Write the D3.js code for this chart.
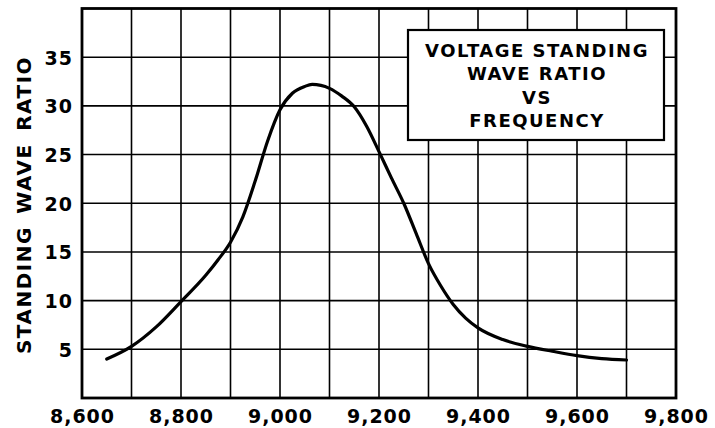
<!DOCTYPE html>
<html>
<head>
<meta charset="utf-8">
<script src="https://cdn.jsdelivr.net/npm/d3@7"></script>
<style>
  body { margin: 0; background: #fff; }
  text { font-family: "DejaVu Sans", sans-serif; font-weight: bold; fill: #000; }
</style>
</head>
<body>
<div id="chart"></div>
<script>
// values
const freqs = [8650, 8700, 8750, 8800, 8850, 8875, 8900, 8925, 8950, 8975, 9000, 9025, 9050, 9065, 9100, 9125, 9150, 9175, 9200, 9225, 9250, 9275, 9300, 9325, 9350, 9375, 9400, 9450, 9500, 9550, 9600, 9650, 9700];
const vswr = [4.0, 5.3, 7.3, 9.9, 12.6, 14.2, 16.0, 18.6, 22.3, 26.4, 29.6, 31.3, 32.0, 32.2, 31.8, 31.0, 29.9, 27.9, 25.3, 22.6, 20.0, 16.9, 13.8, 11.5, 9.6, 8.2, 7.2, 6.0, 5.3, 4.8, 4.35, 4.05, 3.9];

const xTicks = [8600, 8800, 9000, 9200, 9400, 9600, 9800];
const xGrid = [8700, 8800, 8900, 9000, 9100, 9200, 9300, 9400, 9500, 9600, 9700];
const yTicks = [5, 10, 15, 20, 25, 30, 35];
const titleLines = ['VOLTAGE STANDING', 'WAVE RATIO', 'VS', 'FREQUENCY'];

const width = 715;
const height = 428;

const svg = d3.select('#chart')
  .append('svg')
  .attr('width', width)
  .attr('height', height);

const xScale = d3.scaleLinear().domain([8600, 9800]).range([82, 676]);
const yScale = d3.scaleLinear().domain([0, 40]).range([398, 8.5]);

// grid
const grid = svg.append('g');
grid.selectAll('line.v')
  .data(xGrid)
  .join('line')
  .attr('class', 'v')
  .attr('x1', (d) => xScale(d)).attr('x2', (d) => xScale(d))
  .attr('y1', yScale(0)).attr('y2', yScale(40));
grid.selectAll('line.h')
  .data(yTicks)
  .join('line')
  .attr('class', 'h')
  .attr('x1', xScale(8600)).attr('x2', xScale(9800))
  .attr('y1', (d) => yScale(d)).attr('y2', (d) => yScale(d));
grid.selectAll('line')
  .attr('stroke', '#000')
  .attr('stroke-width', 1.6);

// frame
svg.append('rect')
  .attr('x', xScale(8600))
  .attr('y', yScale(40))
  .attr('width', xScale(9800) - xScale(8600))
  .attr('height', yScale(0) - yScale(40))
  .attr('fill', 'none')
  .attr('stroke', '#000')
  .attr('stroke-width', 2.8);

// axes
const xAxis = d3.axisBottom(xScale)
  .tickValues(xTicks)
  .tickSize(0)
  .tickPadding(25)
  .tickFormat(d3.format(','));
const gx = svg.append('g')
  .attr('transform', `translate(0, ${yScale(0)})`)
  .call(xAxis);

const yAxis = d3.axisLeft(yScale)
  .tickValues(yTicks)
  .tickSize(0)
  .tickPadding(9);
const gy = svg.append('g')
  .attr('transform', `translate(${xScale(8600)}, 0)`)
  .call(yAxis);

[gx, gy].forEach((g) => {
  g.select('.domain').remove();
  g.selectAll('text')
    .attr('fill', '#000')
    .style('font-family', '"DejaVu Sans", sans-serif')
    .style('font-weight', 'bold')
    .style('font-size', '19px')
    .style('letter-spacing', '1px');
});
gx.selectAll('text').attr('dy', '0');
gy.selectAll('text').attr('dy', '0.36em');

svg.append('text')
  .attr('transform', 'translate(31, 205) rotate(-90)')
  .attr('text-anchor', 'middle')
  .style('font-size', '20px')
  .style('letter-spacing', '1.5px')
  .style('word-spacing', '4px')
  .text('STANDING WAVE RATIO');

// curve
const line = d3.line()
  .x((d, i) => xScale(freqs[i]))
  .y((d) => yScale(d))
  .curve(d3.curveMonotoneX);

svg.append('path')
  .datum(vswr)
  .attr('d', line)
  .attr('fill', 'none')
  .attr('stroke', '#000')
  .attr('stroke-width', 3.2)
  .attr('stroke-linecap', 'round');

// title box
const box = svg.append('g');
box.append('rect')
  .attr('x', 408).attr('y', 30)
  .attr('width', 256).attr('height', 110)
  .attr('fill', '#fff')
  .attr('stroke', '#000')
  .attr('stroke-width', 2.2);

box.selectAll('text')
  .data(titleLines)
  .join('text')
  .attr('x', 537)
  .attr('y', (d, i) => 57 + i * 23.4)
  .attr('text-anchor', 'middle')
  .style('font-size', '18px')
  .style('letter-spacing', '1.5px')
  .text((d) => d);
</script>
</body>
</html>
